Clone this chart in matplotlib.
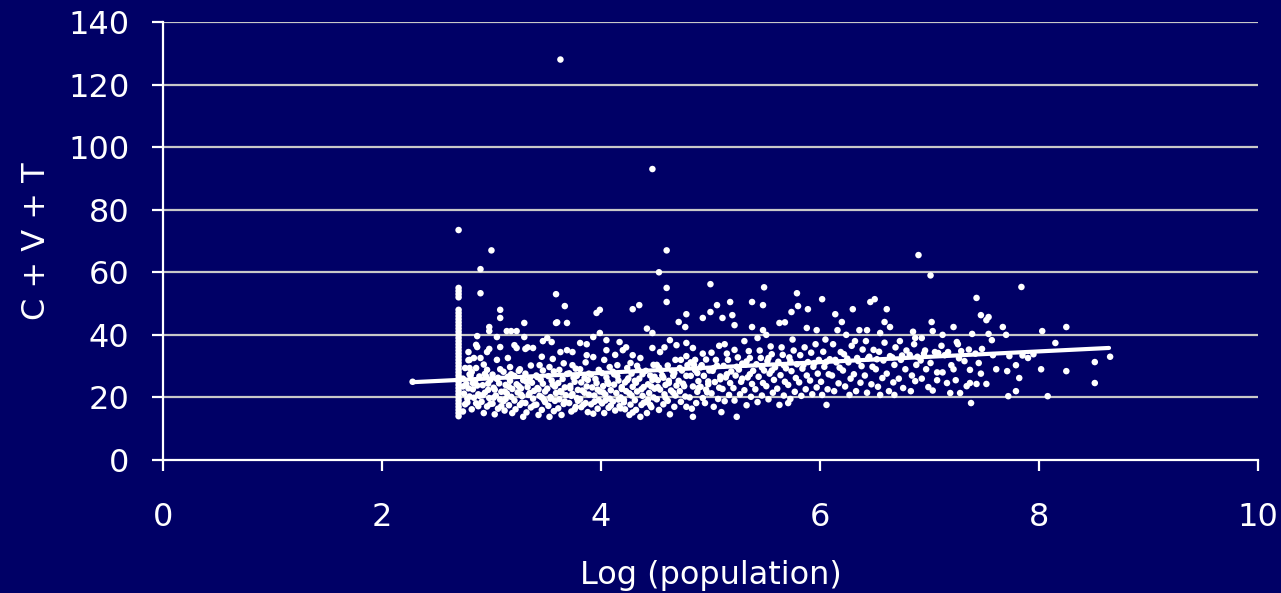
import numpy as np
import matplotlib
matplotlib.use('Agg')
import matplotlib.pyplot as plt

# 数据: 横轴 Log(population), 纵轴 C + V + T

# 最小人口那一列 (log = 2.7), 点非常密
edge_y = [14, 15, 16, 17, 18, 19, 20, 21, 22, 23, 24, 25, 26, 27, 28, 29, 30, 31,
          32, 33, 34, 35, 36, 37, 38, 39, 40, 41, 42, 43, 44, 45, 46, 47, 48,
          52, 53, 54, 55]
edge_x = [2.70] * len(edge_y)

# 离群点和上方稀疏的点
outlier_pts = [(3.63, 128), (4.47, 93), (2.70, 73.5), (3.00, 67), (4.60, 67),
               (6.90, 65.5), (2.90, 61), (4.53, 60), (7.01, 59), (4.60, 55),
               (5.00, 56.2), (5.49, 55.2), (7.84, 55.3), (2.90, 53.3), (3.59, 53),
               (5.79, 53.3), (6.02, 51.4), (7.43, 51.8), (6.50, 51.4), (4.60, 50.5),
               (3.67, 49.2), (3.08, 48), (3.08, 45.4), (2.28, 25)]

# 左边最密的一块 (2.7 - 4.6)
left_pts = [
    (2.74, 15.5), (2.76, 17.8), (2.78, 19.6), (2.75, 21.2), (2.79, 22.9), (2.77, 24.3),
    (2.74, 26.0), (2.80, 27.4), (2.76, 29.4), (2.79, 31.9), (2.78, 18.4), (2.74, 23.5),
    (2.80, 20.3), (2.79, 34.5), (2.80, 29.4), (2.80, 32.0),
    (2.82, 16.2), (2.86, 18.1), (2.84, 19.9), (2.88, 21.0), (2.83, 22.6), (2.87, 23.8),
    (2.85, 25.2), (2.89, 26.7), (2.82, 28.1), (2.86, 29.4), (2.84, 32.6), (2.87, 36.1),
    (2.86, 36.8), (2.87, 39.6), (2.88, 17.2), (2.83, 24.6), (2.89, 20.5), (2.81, 27.0),
    (2.93, 15.0), (2.96, 17.1), (2.91, 18.6), (2.98, 19.8), (2.94, 21.5), (2.97, 22.4),
    (2.92, 23.9), (2.99, 25.6), (2.95, 26.8), (2.96, 28.8), (2.93, 30.5), (2.90, 32.6),
    (2.96, 34.5), (2.98, 35.5), (2.99, 17.9), (2.92, 20.7), (2.97, 24.4), (2.94, 27.5),
    (2.98, 42.5), (2.98, 41.2),
    (3.03, 14.6), (3.06, 16.4), (3.01, 18.0), (3.08, 19.3), (3.04, 20.6), (3.09, 21.8),
    (3.02, 23.1), (3.07, 24.5), (3.05, 25.9), (3.01, 27.3), (3.08, 29.0), (3.05, 32.0),
    (3.08, 36.1), (3.05, 39.3), (3.09, 17.2), (3.03, 22.5), (3.06, 26.3), (3.02, 19.9),
    (3.12, 15.8), (3.16, 17.5), (3.11, 18.8), (3.18, 20.2), (3.14, 21.3), (3.19, 22.7),
    (3.13, 24.0), (3.17, 25.3), (3.15, 26.6), (3.11, 28.2), (3.17, 29.7), (3.15, 32.6),
    (3.14, 41.2), (3.19, 15.0), (3.13, 19.5), (3.16, 23.4), (3.18, 27.4), (3.12, 21.9),
    (3.18, 41.2),
    (3.29, 13.8), (3.22, 16.2), (3.26, 17.6), (3.21, 19.0), (3.28, 20.4), (3.24, 21.6),
    (3.27, 22.9), (3.23, 24.2), (3.29, 25.5), (3.21, 26.9), (3.25, 28.5), (3.26, 29.0),
    (3.23, 35.8), (3.21, 36.7), (3.23, 41.2), (3.28, 18.3), (3.25, 23.6), (3.27, 20.9),
    (3.32, 15.2), (3.36, 16.8), (3.31, 18.2), (3.38, 19.6), (3.34, 20.8), (3.39, 22.1),
    (3.33, 23.3), (3.37, 24.7), (3.35, 26.1), (3.31, 27.6), (3.36, 30.2), (3.31, 35.5),
    (3.33, 36.0), (3.38, 35.8), (3.30, 43.8), (3.39, 17.5), (3.35, 21.4), (3.32, 25.0),
    (3.30, 39.3),
    (3.43, 14.4), (3.46, 16.0), (3.41, 17.7), (3.48, 19.2), (3.44, 20.5), (3.49, 21.9),
    (3.42, 23.0), (3.47, 24.4), (3.45, 25.7), (3.41, 27.0), (3.47, 28.6), (3.44, 30.3),
    (3.46, 33.0), (3.47, 38.0), (3.49, 18.5), (3.43, 22.6), (3.42, 26.5), (3.46, 20.0),
    (3.51, 39.0),
    (3.53, 13.8), (3.57, 15.6), (3.52, 17.3), (3.58, 18.9), (3.54, 20.1), (3.59, 21.4),
    (3.51, 22.8), (3.56, 24.1), (3.55, 25.4), (3.52, 26.8), (3.57, 28.3), (3.53, 29.7),
    (3.56, 32.3), (3.55, 37.7), (3.59, 43.8), (3.54, 19.6), (3.58, 23.5), (3.60, 44.0),
    (3.64, 14.4), (3.61, 16.5), (3.66, 17.9), (3.62, 19.4), (3.68, 20.7), (3.63, 22.0),
    (3.67, 23.2), (3.61, 24.6), (3.65, 25.9), (3.69, 27.5), (3.62, 28.8), (3.66, 30.9),
    (3.63, 34.5), (3.69, 35.1), (3.69, 43.8), (3.67, 18.7), (3.64, 21.6),
    (3.73, 15.5), (3.77, 17.0), (3.71, 18.2), (3.78, 19.8), (3.74, 21.1), (3.79, 22.4),
    (3.72, 23.7), (3.76, 25.0), (3.75, 26.3), (3.71, 27.7), (3.77, 29.2), (3.74, 30.3),
    (3.74, 34.5), (3.79, 18.9), (3.72, 22.9), (3.78, 26.9), (3.76, 16.2), (3.73, 20.5),
    (3.88, 15.3), (3.82, 16.9), (3.86, 18.2), (3.81, 19.5), (3.89, 20.9), (3.83, 22.2),
    (3.87, 23.5), (3.82, 24.8), (3.85, 26.2), (3.89, 27.6), (3.81, 29.0), (3.86, 31.2),
    (3.87, 33.5), (3.81, 37.4), (3.87, 37.0), (3.84, 17.7), (3.85, 21.5), (3.88, 25.6),
    (3.93, 14.8), (3.97, 16.4), (3.91, 17.8), (3.98, 19.1), (3.94, 20.6), (3.99, 21.9),
    (3.92, 23.2), (3.96, 24.6), (3.95, 25.9), (3.91, 27.3), (3.98, 28.8), (3.93, 32.9),
    (3.93, 39.3), (3.99, 40.6), (3.96, 47.0), (3.99, 48.0), (3.94, 18.6), (3.97, 22.5),
    (4.03, 15.0), (4.07, 16.7), (4.01, 18.1), (4.08, 19.6), (4.04, 20.9), (4.09, 22.3),
    (4.02, 23.6), (4.06, 25.0), (4.05, 26.4), (4.01, 27.8), (4.08, 29.7), (4.03, 32.0),
    (4.05, 35.1), (4.05, 38.3), (4.09, 17.4), (4.02, 21.6), (4.07, 24.3), (4.04, 19.0),
    (4.13, 15.8), (4.17, 17.2), (4.11, 18.7), (4.18, 20.0), (4.14, 21.4), (4.19, 22.7),
    (4.12, 24.1), (4.16, 25.4), (4.15, 26.8), (4.11, 28.2), (4.15, 30.3), (4.13, 33.6),
    (4.20, 35.1), (4.17, 37.7), (4.16, 19.3), (4.19, 23.3), (4.18, 16.5), (4.12, 27.4),
    (4.26, 14.4), (4.22, 16.2), (4.27, 17.7), (4.21, 19.2), (4.28, 20.6), (4.23, 22.0),
    (4.29, 23.4), (4.22, 24.8), (4.25, 26.1), (4.28, 27.6), (4.24, 29.4), (4.27, 31.0),
    (4.29, 33.5), (4.23, 36.0), (4.21, 18.4), (4.26, 21.3), (4.24, 25.5), (4.29, 15.2),
    (4.36, 13.8), (4.32, 16.0), (4.37, 17.6), (4.31, 19.1), (4.38, 20.5), (4.33, 21.9),
    (4.39, 23.3), (4.32, 24.7), (4.35, 26.0), (4.38, 27.4), (4.34, 28.9), (4.36, 32.6),
    (4.29, 48.2), (4.35, 49.5), (4.39, 18.3), (4.37, 22.6), (4.31, 25.3), (4.33, 30.1),
    (4.42, 15.0), (4.46, 16.9), (4.41, 18.5), (4.48, 20.0), (4.44, 21.4), (4.49, 22.8),
    (4.43, 24.2), (4.47, 25.6), (4.45, 27.0), (4.41, 28.5), (4.48, 30.4), (4.47, 35.8),
    (4.47, 40.6), (4.42, 42.0), (4.43, 19.2), (4.46, 23.5), (4.49, 26.6), (4.45, 17.6),
]

# 中间一段 (4.5 - 6.7)
mid_pts = [
    (4.53, 16.0), (4.57, 17.8), (4.51, 19.4), (4.58, 21.0), (4.54, 22.5), (4.59, 24.0),
    (4.52, 25.5), (4.56, 27.0), (4.55, 28.6), (4.51, 30.4), (4.54, 34.5), (4.58, 36.0),
    (4.59, 19.9), (4.52, 23.3), (4.57, 26.3), (4.53, 29.5),
    (4.63, 14.6), (4.67, 17.0), (4.61, 18.9), (4.68, 20.6), (4.64, 22.2), (4.69, 23.8),
    (4.62, 25.3), (4.66, 26.9), (4.65, 28.5), (4.61, 30.2), (4.68, 32.0), (4.69, 36.7),
    (4.63, 38.3), (4.66, 21.5), (4.62, 24.6), (4.67, 27.8),
    (4.84, 13.8), (4.78, 17.0), (4.73, 18.6), (4.77, 20.3), (4.72, 22.0), (4.76, 23.6),
    (4.71, 25.3), (4.78, 26.9), (4.74, 28.6), (4.79, 30.3), (4.73, 32.0), (4.78, 33.2),
    (4.78, 37.4), (4.77, 42.5), (4.71, 44.1), (4.78, 46.6), (4.75, 24.4), (4.72, 29.4),
    (4.83, 16.4), (4.87, 18.2), (4.81, 20.0), (4.88, 21.8), (4.84, 23.5), (4.89, 25.2),
    (4.82, 26.9), (4.86, 28.7), (4.85, 30.4), (4.86, 32.0), (4.84, 35.8), (4.89, 23.0),
    (4.88, 27.8), (4.82, 31.2),
    (4.95, 18.2), (4.93, 19.8), (4.97, 21.6), (4.91, 23.4), (4.98, 25.1), (4.94, 26.9),
    (4.99, 28.6), (4.92, 30.3), (4.96, 32.1), (4.93, 34.0), (4.93, 45.4), (4.98, 24.2),
    (4.91, 29.6), (4.96, 22.5),
    (5.03, 17.0), (5.07, 19.5), (5.01, 21.3), (5.08, 23.1), (5.04, 24.9), (5.09, 26.7),
    (5.02, 28.5), (5.06, 30.2), (5.05, 32.0), (5.01, 34.3), (5.08, 36.5), (5.00, 47.3),
    (5.06, 49.5), (5.09, 25.8), (5.03, 29.4),
    (5.10, 15.3), (5.13, 18.8), (5.17, 20.8), (5.11, 22.7), (5.18, 24.6), (5.14, 26.4),
    (5.19, 28.3), (5.12, 30.1), (5.16, 32.0), (5.15, 34.0), (5.13, 37.0), (5.11, 45.4),
    (5.20, 46.3), (5.18, 50.5), (5.15, 27.4),
    (5.24, 13.8), (5.22, 19.0), (5.27, 21.0), (5.21, 23.0), (5.28, 25.0), (5.23, 27.0),
    (5.26, 28.9), (5.29, 30.8), (5.25, 32.8), (5.22, 35.2), (5.22, 43.1), (5.29, 26.0),
    (5.24, 29.8),
    (5.33, 17.5), (5.37, 20.2), (5.31, 22.3), (5.38, 24.3), (5.34, 26.4), (5.39, 28.5),
    (5.32, 30.5), (5.36, 32.6), (5.35, 34.8), (5.31, 38.0), (5.38, 42.5), (5.38, 50.5),
    (5.36, 27.4), (5.33, 31.5),
    (5.43, 18.5), (5.47, 20.6), (5.41, 22.6), (5.48, 24.6), (5.44, 26.6), (5.49, 28.6),
    (5.42, 30.6), (5.46, 32.6), (5.45, 35.0), (5.43, 39.0), (5.48, 41.5), (5.48, 49.5),
    (5.47, 29.6),
    (5.53, 19.4), (5.57, 21.5), (5.51, 23.6), (5.58, 25.6), (5.54, 27.6), (5.59, 29.6),
    (5.52, 31.6), (5.56, 33.8), (5.55, 36.3), (5.51, 40.0), (5.56, 28.6), (5.53, 32.6),
    (5.63, 17.6), (5.71, 18.2), (5.67, 20.6), (5.61, 22.8), (5.68, 25.0), (5.64, 27.1),
    (5.69, 29.3), (5.62, 31.4), (5.66, 33.6), (5.65, 36.0), (5.63, 43.8), (5.68, 44.0),
    (5.67, 30.3),
    (5.73, 19.5), (5.77, 21.8), (5.71, 24.0), (5.78, 26.2), (5.74, 28.4), (5.79, 30.6),
    (5.72, 32.8), (5.76, 35.0), (5.75, 38.5), (5.74, 47.3), (5.80, 49.2), (5.73, 31.6),
    (5.83, 20.5), (5.87, 22.6), (5.81, 24.8), (5.88, 27.0), (5.84, 29.2), (5.89, 31.3),
    (5.82, 33.5), (5.86, 36.0), (5.88, 42.2), (5.89, 48.2), (5.85, 30.4),
    (5.93, 21.0), (5.97, 23.2), (5.91, 25.4), (5.98, 27.6), (5.94, 29.8), (5.99, 32.0),
    (5.92, 34.3), (5.96, 37.0), (5.97, 41.5), (5.95, 31.0),
    (6.06, 17.6), (6.02, 20.8), (6.07, 22.6), (6.01, 25.0), (6.08, 27.4), (6.04, 29.8),
    (6.09, 32.2), (6.03, 34.6), (6.05, 38.5), (6.06, 31.4),
    (6.13, 22.0), (6.17, 24.5), (6.11, 27.0), (6.18, 29.5), (6.14, 32.0), (6.19, 34.5),
    (6.12, 37.0), (6.16, 41.5), (6.14, 46.6), (6.15, 31.2),
    (6.27, 20.8), (6.23, 23.5), (6.28, 26.0), (6.21, 28.6), (6.26, 31.2), (6.22, 33.8),
    (6.29, 36.5), (6.24, 40.0), (6.20, 44.1), (6.25, 32.4), (6.30, 48.2),
    (6.33, 22.0), (6.37, 24.7), (6.31, 27.4), (6.38, 30.0), (6.34, 32.6), (6.39, 35.3),
    (6.32, 38.0), (6.36, 41.5), (6.35, 31.6),
    (6.43, 21.5), (6.47, 24.2), (6.41, 27.0), (6.48, 29.8), (6.44, 32.5), (6.49, 35.2),
    (6.42, 38.0), (6.43, 41.5), (6.46, 50.5), (6.45, 33.0),
    (6.55, 20.8), (6.53, 23.4), (6.57, 26.2), (6.51, 29.0), (6.58, 31.8), (6.54, 34.6),
    (6.59, 37.5), (6.55, 40.6), (6.52, 32.2),
    (6.63, 22.0), (6.67, 24.8), (6.61, 27.6), (6.68, 30.4), (6.64, 33.2), (6.69, 36.0),
    (6.59, 44.1), (6.64, 42.5), (6.61, 48.2), (6.66, 32.8),
]

# 右边稀疏的部分 (6.7 - 8.7)
right_pts = [
    (6.68, 20.8), (6.76, 23.0), (6.72, 26.0), (6.78, 29.0), (6.74, 32.0), (6.79, 35.0),
    (6.73, 38.0), (6.75, 33.4),
    (6.83, 22.0), (6.87, 25.2), (6.84, 27.0), (6.88, 30.4), (6.82, 33.6), (6.86, 37.0),
    (6.87, 39.0), (6.85, 41.0), (6.89, 33.0),
    (6.99, 23.3), (6.93, 26.0), (6.97, 29.0), (6.92, 31.8), (6.96, 35.0), (6.93, 39.0),
    (6.95, 34.0),
    (7.03, 22.2), (7.07, 25.5), (7.07, 28.0), (7.01, 31.0), (7.05, 34.5), (7.03, 41.2),
    (7.02, 44.1), (7.08, 34.2),
    (7.19, 21.4), (7.16, 24.6), (7.12, 28.0), (7.20, 30.3), (7.14, 33.5), (7.11, 36.5),
    (7.12, 40.0), (7.17, 34.5),
    (7.28, 21.4), (7.24, 25.5), (7.22, 29.0), (7.27, 32.5), (7.26, 37.0), (7.25, 37.7),
    (7.22, 42.5), (7.29, 34.8),
    (7.38, 18.2), (7.34, 23.6), (7.37, 24.6), (7.37, 28.8), (7.32, 31.6), (7.39, 40.3),
    (7.36, 35.3),
    (7.43, 24.3), (7.47, 27.6), (7.45, 31.0), (7.42, 34.0), (7.47, 46.3), (7.48, 35.5),
    (7.52, 24.3), (7.57, 38.3), (7.54, 40.3), (7.52, 44.7), (7.54, 45.7), (7.58, 33.5),
    (7.61, 29.0), (7.67, 42.5), (7.70, 40.0), (7.71, 28.4), (7.73, 33.2), (7.72, 20.4),
    (7.79, 22.0), (7.79, 30.3), (7.82, 26.2), (7.85, 33.4), (7.90, 32.6), (7.95, 33.8),
    (8.02, 29.0), (8.03, 41.2), (8.08, 20.4), (8.15, 37.4), (8.25, 42.5), (8.25, 28.4),
    (8.51, 31.3), (8.51, 24.6), (8.65, 33.0),
]

# 趋势线 (线性拟合, 斜率和截距)
trend_slope = 1.72
trend_intercept = 20.95
trend_range = [2.28, 8.64]

x_ticks = [0, 2, 4, 6, 8, 10]
y_ticks = [0, 20, 40, 60, 80, 100, 120, 140]

navy = '#000066'
grid_color = '#c8c8c8'

all_pts = outlier_pts + left_pts + mid_pts + right_pts
px = np.array(edge_x + [p[0] for p in all_pts])
py = np.array(edge_y + [p[1] for p in all_pts])

fig = plt.figure(figsize=(12.81, 5.93), dpi=100, facecolor=navy)
ax = fig.add_axes([0.1272, 0.2243, 0.8548, 0.7386], facecolor=navy)

for yv in y_ticks[1:]:
    ax.axhline(yv, color=grid_color, lw=1.6, zorder=1)

ax.scatter(px, py, s=22, c='white', edgecolors='none', zorder=3)

tx = np.array(trend_range)
ax.plot(tx, trend_slope * tx + trend_intercept, color='white', lw=3,
        solid_capstyle='round', zorder=4)

ax.set_xlim(0, 10)
ax.set_ylim(0, 140)
ax.set_xticks(x_ticks)
ax.set_yticks(y_ticks)

for side in ['top', 'right']:
    ax.spines[side].set_visible(False)
for side in ['left', 'bottom']:
    ax.spines[side].set_color('white')
    ax.spines[side].set_linewidth(1.6)

ax.tick_params(axis='x', colors='white', direction='out', length=8, width=1.6,
               labelsize=23, pad=22)
ax.tick_params(axis='y', colors='white', direction='out', length=8, width=1.6,
               labelsize=23, pad=16)

ax.set_xlabel('Log (population)', color='white', fontsize=23, labelpad=20)
ax.set_ylabel('C + V + T', color='white', fontsize=23, labelpad=12)

fig.savefig('out.png', dpi=100, facecolor=navy)
